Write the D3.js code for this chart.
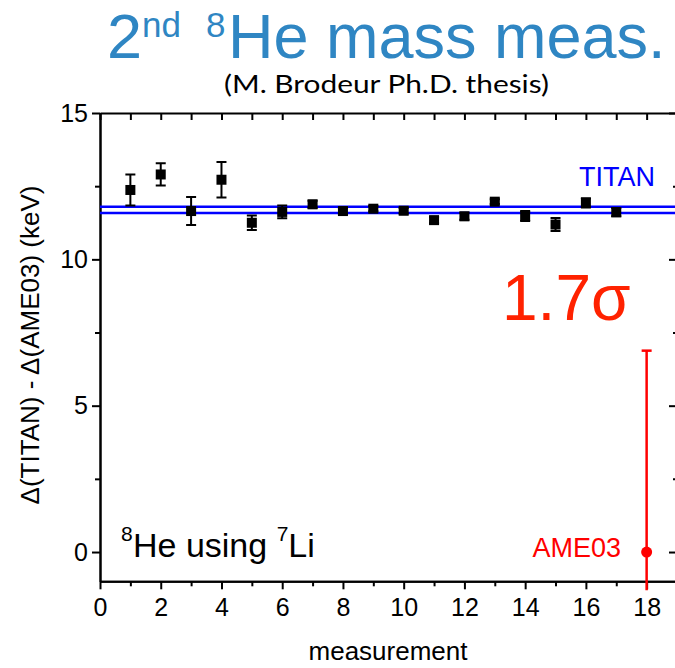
<!DOCTYPE html>
<html>
<head>
<meta charset="utf-8">
<title>8He mass</title>
<script src="https://cdn.jsdelivr.net/npm/d3@7"></script>
<style>
body { margin:0; background:#fff; font-family:"Liberation Sans",Arial,sans-serif; }
.axis path, .axis line { stroke:#000; stroke-width:2; }
.axis text { font-size:25px; fill:#000; font-family:"Liberation Sans",Arial,sans-serif; }
</style>
</head>
<body>
<svg id="chart" width="675" height="668"></svg>
<script>
// measurement number, Δ(TITAN)-Δ(AME03) in keV, 1σ error
const meas = [1, 2, 3, 4, 5, 6, 7, 8, 9, 10, 11, 12, 13, 14, 15, 16, 17];
const vals = [12.37, 12.90, 11.65, 12.72, 11.25, 11.62, 11.88, 11.65, 11.73, 11.66, 11.34, 11.47, 11.97, 11.48, 11.19, 11.93, 11.61];
const errs = [0.53, 0.38, 0.48, 0.61, 0.25, 0.22, 0.12, 0.10, 0.09, 0.09, 0.11, 0.12, 0.08, 0.17, 0.22, 0.16, 0.14];
// TITAN average band (lower, upper)
const titanBand = [11.58, 11.80];
// AME03 reference at position 18
const ameX = [18], ameY = [0], ameErr = [6.88];

const xTicks = [0, 2, 4, 6, 8, 10, 12, 14, 16, 18];
const xMinor = [1, 3, 5, 7, 9, 11, 13, 15, 17];
const yTicks = [0, 5, 10, 15];
const yMinor = [2.5, 7.5, 12.5];

const svg = d3.select("#chart");
const x = d3.scaleLinear([0, 19], [100, 677]);
const y = d3.scaleLinear([-1, 15], [581.3, 113]);
const [x0, x1] = x.range(), [yb, yt] = y.range();

// clip for the data area (a little extra at bottom for AME03 bar)
svg.append("clipPath").attr("id", "clip").append("rect")
  .attr("x", x0).attr("y", yt).attr("width", x1 - x0).attr("height", yb - yt + 9);

// axes: bottom/left outward ticks, top/right inward
const ax = (g, a) => g.attr("class", "axis").call(a);
svg.append("g").attr("transform", `translate(0,${yb})`)
  .call(g => ax(g, d3.axisBottom(x).tickValues(xTicks).tickSize(8).tickSizeOuter(0).tickPadding(9).tickFormat(d3.format("d"))));
svg.append("g").attr("transform", `translate(0,${yb})`)
  .call(g => ax(g, d3.axisBottom(x).tickValues(xMinor).tickSize(5).tickSizeOuter(0).tickFormat("")));
svg.append("g").attr("transform", `translate(${x0},0)`)
  .call(g => ax(g, d3.axisLeft(y).tickValues(yTicks).tickSize(8).tickSizeOuter(0).tickPadding(4).tickFormat(d3.format("d"))));
svg.append("g").attr("transform", `translate(${x0},0)`)
  .call(g => ax(g, d3.axisLeft(y).tickValues(yMinor).tickSize(5).tickSizeOuter(0).tickFormat("")));
svg.append("g").attr("transform", `translate(0,${yt})`)
  .call(g => ax(g, d3.axisTop(x).tickValues(xMinor.concat(xTicks)).tickSize(-7).tickSizeOuter(0).tickFormat("")));
svg.append("g").attr("transform", `translate(${x1},0)`)
  .call(g => ax(g, d3.axisRight(y).tickValues(yTicks).tickSize(-8).tickSizeOuter(0).tickFormat("")));
svg.append("g").attr("transform", `translate(${x1},0)`)
  .call(g => ax(g, d3.axisRight(y).tickValues(yMinor).tickSize(-4).tickSizeOuter(0).tickFormat("")));

const plot = svg.append("g").attr("clip-path", "url(#clip)");

// TITAN band lines
plot.selectAll(".band").data(titanBand).enter().append("line")
  .attr("x1", x0).attr("x2", x1).attr("y1", d => y(d)).attr("y2", d => y(d))
  .attr("stroke", "#0000ff").attr("stroke-width", 2.5);

// error bars
const pts = meas.map((m, i) => ({ m, v: vals[i], e: errs[i] }));
const eb = plot.selectAll(".eb").data(pts).enter().append("g")
  .attr("stroke", "#000").attr("stroke-width", 2);
eb.append("line").attr("x1", d => x(d.m)).attr("x2", d => x(d.m))
  .attr("y1", d => y(d.v - d.e)).attr("y2", d => y(d.v + d.e));
eb.append("line").attr("x1", d => x(d.m) - 5).attr("x2", d => x(d.m) + 5)
  .attr("y1", d => y(d.v + d.e)).attr("y2", d => y(d.v + d.e));
eb.append("line").attr("x1", d => x(d.m) - 5).attr("x2", d => x(d.m) + 5)
  .attr("y1", d => y(d.v - d.e)).attr("y2", d => y(d.v - d.e));
plot.selectAll(".pt").data(pts).enter().append("rect")
  .attr("x", d => x(d.m) - 5).attr("y", d => y(d.v) - 5)
  .attr("width", 10).attr("height", 10).attr("fill", "#000");

// AME03 point
const ame = ameX.map((a, i) => ({ m: a, v: ameY[i], e: ameErr[i] }));
const ag = plot.selectAll(".ame").data(ame).enter().append("g")
  .attr("stroke", "#ff0000").attr("stroke-width", 2.5);
ag.append("line").attr("x1", d => x(d.m)).attr("x2", d => x(d.m))
  .attr("y1", d => y(d.v - d.e)).attr("y2", d => y(d.v + d.e));
ag.append("line").attr("x1", d => x(d.m) - 5).attr("x2", d => x(d.m) + 5)
  .attr("y1", d => y(d.v + d.e)).attr("y2", d => y(d.v + d.e));
ag.append("circle").attr("cx", d => x(d.m)).attr("cy", d => y(d.v)).attr("r", 5.5)
  .attr("fill", "#ff0000").attr("stroke", "none");

// labels
const txt = (xx, yy, s, size, fill, anchor) => svg.append("text")
  .attr("x", xx).attr("y", yy).attr("font-size", size).attr("fill", fill || "#000")
  .attr("text-anchor", anchor || "start").text(s);

txt(655, 186, "TITAN", 27, "#0000ff", "end");
txt(621, 557, "AME03", 27, "#ff0000", "end");
txt(502, 320, "1.7σ", 64, "#ff2200");

const he = svg.append("text").attr("y", 557).attr("font-size", 34).attr("fill", "#000");
he.append("tspan").attr("x", 121).attr("dy", -16).attr("font-size", 21).text("8");
he.append("tspan").attr("x", 133).attr("dy", 16).text("He using ");
he.append("tspan").attr("dy", -16).attr("font-size", 21).text("7");
he.append("tspan").attr("dy", 16).text("Li");

// title
const ttl = svg.append("text").attr("y", 58).attr("font-size", 63).attr("fill", "#2f86c3");
ttl.append("tspan").attr("x", 107).text("2");
ttl.append("tspan").attr("x", 142).attr("dy", -21).attr("font-size", 35).text("nd");
ttl.append("tspan").attr("x", 206).attr("font-size", 35).text("8");
ttl.append("tspan").attr("x", 228).attr("dy", 21).text("He mass meas.");

svg.append("text").attr("x", 224).attr("y", 93).attr("font-size", 25)
  .attr("font-family", "Lato, 'Open Sans', sans-serif").attr("textLength", 325)
  .attr("lengthAdjust", "spacingAndGlyphs").text("(M. Brodeur Ph.D. thesis)");

// axis titles
txt(388, 660, "measurement", 26, "#000", "middle");
svg.append("text").attr("transform", "translate(39,345) rotate(-90)")
  .attr("text-anchor", "middle").attr("font-size", 26).text("Δ(TITAN) - Δ(AME03) (keV)");
</script>
</body>
</html>
